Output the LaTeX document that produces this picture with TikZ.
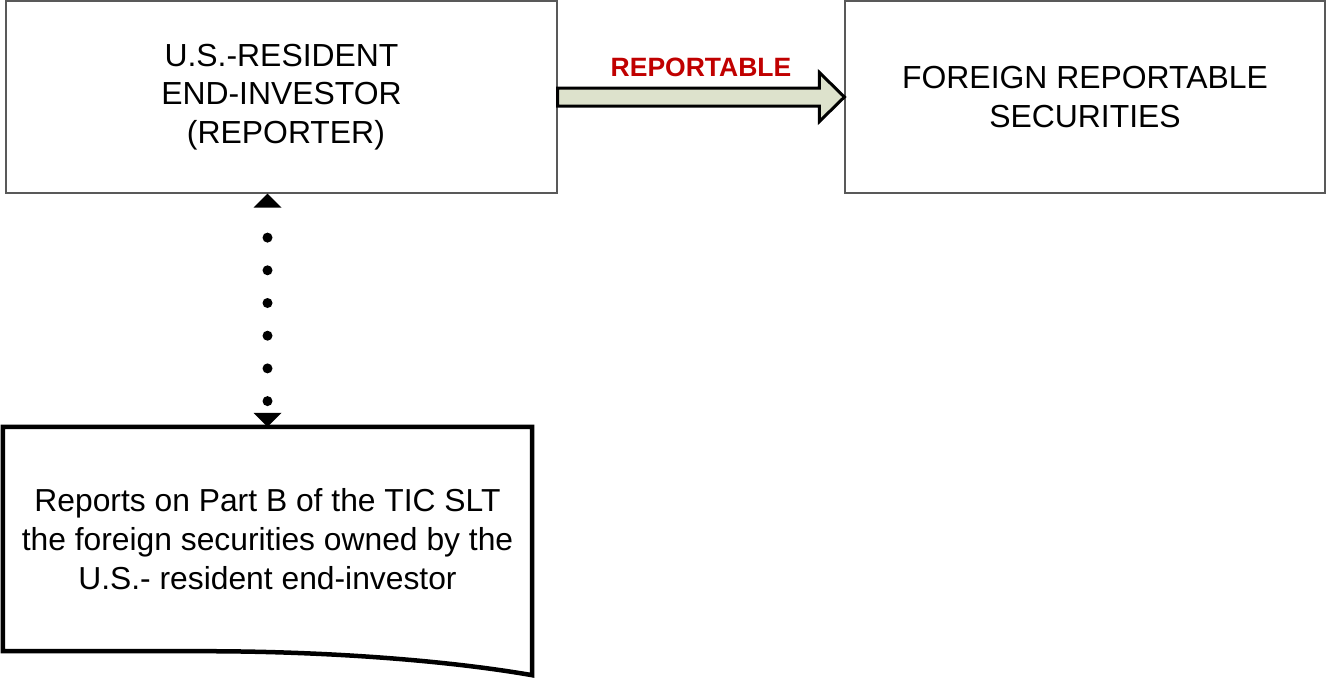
\documentclass[tikz,border=0pt]{standalone}
\usepackage{fontspec}
\setmainfont{Liberation Sans}
\usetikzlibrary{arrows.meta,calc}
\definecolor{arrowfill}{HTML}{DDE2CC}
\definecolor{tagred}{HTML}{C00000}
\begin{document}
\begin{tikzpicture}[x=1pt,y=-1pt,
  party/.style={draw=black!65,line width=1.2pt,rectangle,align=center,inner sep=0pt,
    font=\fontsize{31.9}{38.5}\selectfont},
  docnote/.style={draw=none,rectangle,align=center,inner sep=0pt,
    minimum width=529pt,minimum height=224pt,font=\fontsize{31.8}{39}\selectfont},
  docedge/.style={draw=black,line width=4.5pt,line join=miter},
  blockarrow/.style={fill=arrowfill,draw=black,line width=3pt,line join=miter},
  tagtext/.style={font=\fontsize{26.5}{30}\selectfont\bfseries,text=tagred,inner sep=0pt},
  dottip/.tip={Triangle[length=14pt,width=28pt,line width=0pt]},
  dotlink/.style={line width=10pt,line cap=round,dash pattern=on 0pt off 32.7pt,
    dash phase=2.7pt,dottip-dottip}]
\useasboundingbox (0,0) rectangle (1327,678);

% the two parties
\node[party,minimum width=551pt,minimum height=192pt] (inv) at (281.5,97)
  {U.S.-RESIDENT\\END-INVESTOR\\\mbox{}\ (REPORTER)};
\node[party,minimum width=480pt,minimum height=192pt] (sec) at (1085,97)
  {FOREIGN REPORTABLE\\SECURITIES};

% reporting document
\node[docnote] (rep) at (267.5,539)
  {Reports on Part B of the TIC SLT\\the foreign securities owned by the\\U.S.- resident end-investor};
\draw[docedge] (rep.south west) -- (rep.north west) -- (rep.north east)
  -- ($(rep.south east)+(0,24)$)
  .. controls ($(rep.south east)+(-80,10)$) and ($(rep.south west)+(330,0)$)
  .. ($(rep.south west)+(200,0)$) -- cycle;

% block arrow between the parties
\filldraw[blockarrow] ($(inv.east)+(0,-9)$) -- ($(sec.west)+(-25,-9)$)
  -- ($(sec.west)+(-25,-24.5)$) -- (sec.west) -- ($(sec.west)+(-25,24.5)$)
  -- ($(sec.west)+(-25,9)$) -- ($(inv.east)+(0,9)$) -- cycle;
\node[tagtext] (tag) at (701,67) {REPORTABLE};

% dotted link between investor and report
\draw[dotlink] (inv.south -| rep.north) -- (rep.north);
\end{tikzpicture}
\end{document}
